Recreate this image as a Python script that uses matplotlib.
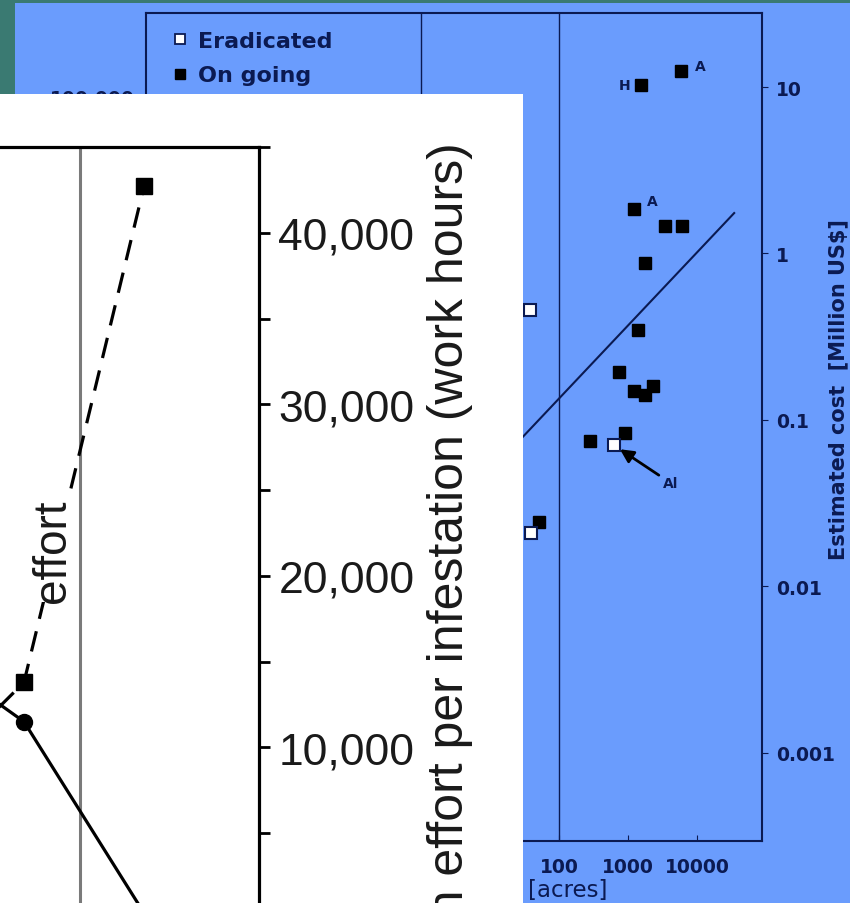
import matplotlib
matplotlib.use("Agg")
import matplotlib.pyplot as plt
from matplotlib.patches import Rectangle
from matplotlib.lines import Line2D
from matplotlib.ticker import FixedLocator, NullFormatter, NullLocator

W, H = 850, 904

# left (white) panel: effort per infestation in work hours
stage = [0, 1, 2]
effort_hours = [6800, 13800, 42700]
other_hours = [16500, 11500, 350]
hour_ticks = [10000, 20000, 30000, 40000]
hour_labels = ["10,000", "20,000", "30,000", "40,000"]
hour_minor = [0, 5000, 15000, 25000, 35000, 45000]
divider_at = 1.467

# right (blue) panel: infested area vs estimated cost
ongoing_area = [1550, 5900, 1220, 3440, 6070, 1760, 1400, 741, 1220, 1760, 2300, 281, 906, 51]
ongoing_cost = [10.3, 12.5, 1.85, 1.46, 1.46, 0.874, 0.345, 0.193, 0.150, 0.142, 0.161, 0.0743, 0.083, 0.0245]
eradicated_area = [626, 38, 39]
eradicated_cost = [0.0703, 0.456, 0.021]
fit_area = [0.1, 34400]
fit_cost = [0.0065, 1.75]
area_ticks = [0.001, 0.01, 0.1, 1, 10, 100, 1000, 10000]
area_labels = ["", "", "", "", "", "100", "1000", "10000"]
cost_ticks = [0.001, 0.01, 0.1, 1, 10]
cost_labels = ["0.001", "0.01", "0.1", "1", "10"]

teal = "#3a7a72"
blue = "#6a9cfd"
navy = "#0b1a52"


def fx(px):
    return px / W


def fy(py):
    return 1 - py / H


fig = plt.figure(figsize=(W / 100, H / 100), dpi=100, facecolor=teal)

# blue slide panel
fig.patches.append(Rectangle((fx(15), 0), 1, fy(4), transform=fig.transFigure,
                             facecolor=blue, edgecolor="none", zorder=0.5))

bx = fig.add_axes([fx(146), fy(842), (762 - 146) / W, (842 - 14) / H])
bx.set_zorder(1)
bx.patch.set_visible(False)
bx.set_xscale("log")
bx.set_yscale("log")
bx.set_xlim(10 ** -3.99, 10 ** 4.94)
bx.set_ylim(10 ** -3.53, 10 ** 1.445)

bx.plot(fit_area, fit_cost, color=navy, lw=1.5)
bx.axvline(1, color=navy, lw=1)
bx.axvline(100, color=navy, lw=1)
bx.plot(ongoing_area, ongoing_cost, "s", color="black", ms=8.5, zorder=3)
bx.plot(eradicated_area, eradicated_cost, "s", mfc="white", mec=navy, mew=1.5, ms=8.5, zorder=3)

lbl = dict(color=navy, fontsize=10, fontweight="bold")
bx.annotate("H", (1550, 10.3), xytext=(-12, 0), textcoords="offset points", ha="center", va="center", **lbl)
bx.annotate("A", (5900, 12.5), xytext=(13.5, 3.5), textcoords="offset points", ha="center", va="center", **lbl)
bx.annotate("A", (1220, 1.85), xytext=(13, 5.5), textcoords="offset points", ha="center", va="center", **lbl)
bx.annotate("Al", (626, 0.0703), xytext=(35, -27), textcoords="offset points", ha="left", va="center",
            arrowprops=dict(arrowstyle="-|>", color="black", lw=2, mutation_scale=20, shrinkA=1, shrinkB=5), **lbl)

for s in bx.spines.values():
    s.set_color(navy)
    s.set_linewidth(1.5)

bx.xaxis.set_major_locator(FixedLocator(area_ticks))
bx.set_xticklabels(area_labels)
bx.xaxis.set_minor_locator(NullLocator())
bx.tick_params(axis="x", direction="in", length=4, color=navy, pad=11.5,
               labelsize=13.5, labelcolor=navy)
bx.yaxis.tick_right()
bx.yaxis.set_major_locator(FixedLocator(cost_ticks))
bx.set_yticklabels(cost_labels)
bx.yaxis.set_minor_locator(NullLocator())
bx.tick_params(axis="y", direction="out", length=4, color=navy, pad=6,
               labelsize=13.5, labelcolor=navy)
for t in bx.get_xticklabels() + bx.get_yticklabels():
    t.set_fontweight("bold")

bx.text(fx(838), fy(390), "Estimated cost  [Million US$]", transform=fig.transFigure, rotation=90,
        ha="center", va="center", fontsize=15, fontweight="bold", color=navy)
bx.text(fx(608), fy(891), "[acres]", transform=fig.transFigure,
        ha="right", va="center", fontsize=16.5, color=navy)
bx.text(fx(135), fy(99), "100,000", transform=fig.transFigure,
        ha="right", va="center", fontsize=13.5, fontweight="bold", color=navy)

handles = [Line2D([], [], ls="none", marker="s", mfc="white", mec=navy, mew=1.3, ms=7),
           Line2D([], [], ls="none", marker="s", color="black", ms=7)]
leg = bx.legend(handles, ["Eradicated", "On going"], loc="upper left",
                bbox_to_anchor=(fx(172), fy(32)), bbox_transform=fig.transFigure,
                frameon=False, borderaxespad=0, borderpad=0, handlelength=0.7,
                handletextpad=0.45, labelspacing=0.65,
                prop=dict(size=16, weight="bold"))
for t in leg.get_texts():
    t.set_color(navy)

# white pasted panel
fig.patches.append(Rectangle((0, 0), fx(523), fy(95), transform=fig.transFigure,
                             facecolor="white", edgecolor="none", zorder=2))

wx = fig.add_axes([fx(-216), fy(920), 475 / W, 772 / H])
wx.set_zorder(3)
wx.patch.set_visible(False)
wx.set_xlim(-1, 1 + 235 / 120)
wx.set_ylim(0, 45000)

wx.axvline(divider_at, color="#7a7a7a", lw=2.2)
wx.plot(stage, other_hours, "-o", color="black", lw=2.3, ms=11.5)
wx.plot(stage, effort_hours, "--s", color="black", lw=2.3, ms=12, dashes=(6.5, 4))

wx.spines["left"].set_visible(False)
wx.spines["bottom"].set_visible(False)
wx.spines["top"].set_linewidth(2.3)
wx.spines["right"].set_linewidth(2.3)
wx.set_xticks([])
wx.yaxis.tick_right()
wx.yaxis.set_major_locator(FixedLocator(hour_ticks))
wx.set_yticklabels(hour_labels)
wx.yaxis.set_minor_locator(FixedLocator(hour_minor))
wx.yaxis.set_minor_formatter(NullFormatter())
wx.tick_params(axis="y", which="both", direction="out", length=8, width=2, pad=6,
               labelsize=32, labelcolor="#1a1a1a")
for t in wx.get_yticklabels():
    t.set_family("Liberation Sans")

wx.text(fx(53), fy(551), "effort", transform=fig.transFigure, rotation=90, ha="center", va="center",
        fontsize=33, family="Liberation Sans", color="#1a1a1a",
        bbox=dict(facecolor="white", edgecolor="none", pad=0), zorder=5)
wx.text(fx(450), fy(142), "Eradication effort per infestation (work hours)", transform=fig.transFigure,
        rotation=90, ha="center", va="top", fontsize=36, family="Liberation Sans", color="#1a1a1a")

fig.savefig("out.png", dpi=100, facecolor=teal)
